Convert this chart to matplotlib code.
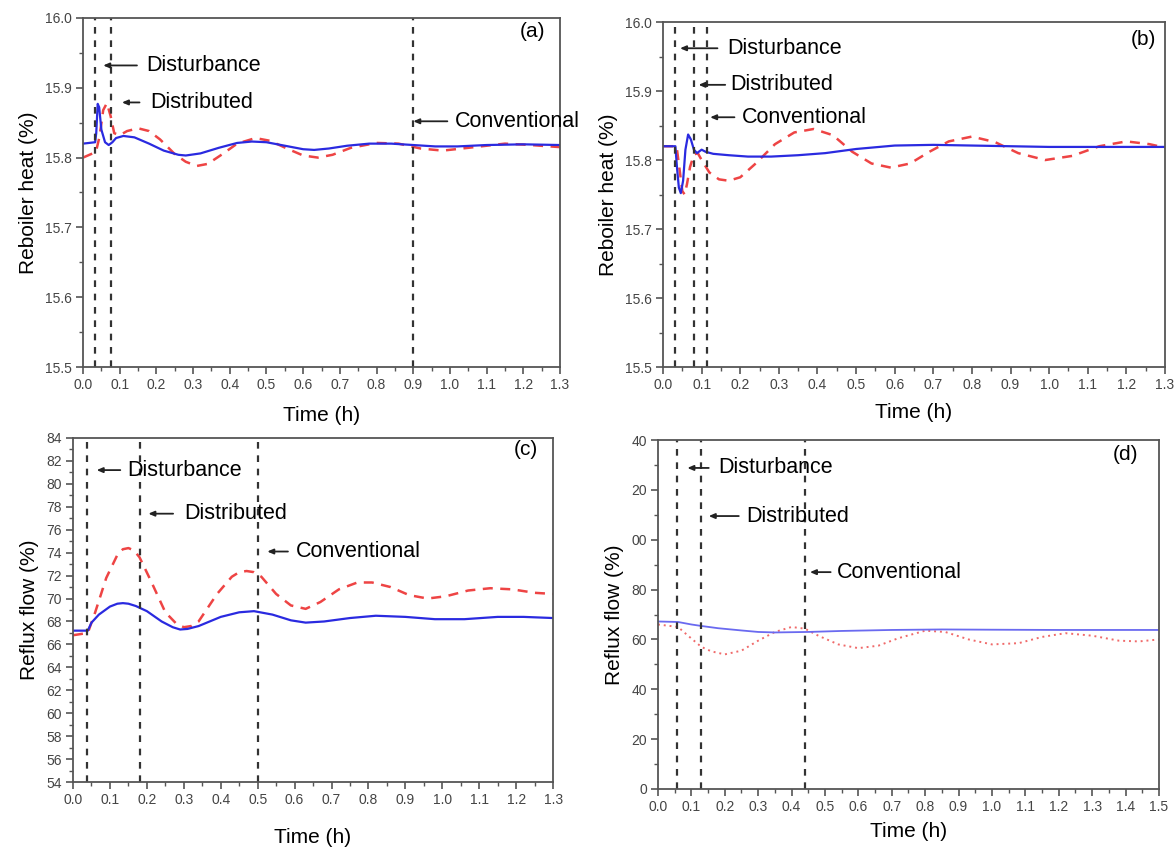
import numpy as np
import matplotlib.pyplot as plt
from matplotlib.ticker import MultipleLocator, FixedLocator, FixedFormatter

plt.rcParams['font.family'] = ['Liberation Sans', 'DejaVu Sans']

# ---- panel (a): reboiler heat, case 1 ----
ta_blue = [0, 0.033, 0.036, 0.040, 0.044, 0.05, 0.06, 0.07, 0.08, 0.09, 0.11, 0.14, 0.18, 0.22, 0.26,
           0.28, 0.32, 0.37, 0.42, 0.46, 0.5, 0.55, 0.6, 0.63, 0.67, 0.72, 0.78, 0.84, 0.9, 0.96, 1.02,
           1.1, 1.2, 1.3]
a_blue = [15.820, 15.822, 15.835, 15.877, 15.872, 15.84, 15.822, 15.818, 15.822, 15.828, 15.831, 15.829,
          15.82, 15.81, 15.804, 15.803, 15.806, 15.814, 15.821, 15.823, 15.822, 15.817, 15.812, 15.811,
          15.813, 15.817, 15.82, 15.82, 15.818, 15.816, 15.816, 15.818, 15.819, 15.818]
ta_red = [0, 0.035, 0.045, 0.055, 0.065, 0.075, 0.085, 0.1, 0.12, 0.15, 0.18, 0.21, 0.25, 0.28, 0.31,
          0.34, 0.38, 0.42, 0.47, 0.51, 0.56, 0.6, 0.64, 0.68, 0.73, 0.8, 0.86, 0.92, 0.98, 1.05, 1.15,
          1.22, 1.3]
a_red = [15.800, 15.808, 15.83, 15.868, 15.878, 15.86, 15.835, 15.832, 15.838, 15.842, 15.838, 15.826,
         15.805, 15.794, 15.788, 15.791, 15.805, 15.82, 15.828, 15.824, 15.812, 15.803, 15.800, 15.804,
         15.814, 15.821, 15.82, 15.813, 15.81, 15.814, 15.82, 15.818, 15.815]
a_vlines = [0.033, 0.075, 0.90]

# ---- panel (b): reboiler heat, case 2 ----
tb_blue = [0, 0.032, 0.036, 0.041, 0.046, 0.052, 0.058, 0.065, 0.072, 0.08, 0.088, 0.095, 0.1, 0.11,
           0.13, 0.17, 0.22, 0.28, 0.35, 0.42, 0.5, 0.6, 0.7, 0.8, 0.9, 1.0, 1.1, 1.2, 1.3]
b_blue = [15.82, 15.82, 15.79, 15.76, 15.752, 15.77, 15.815, 15.837, 15.83, 15.815, 15.81, 15.813,
          15.815, 15.812, 15.809, 15.807, 15.805, 15.805, 15.807, 15.81, 15.816, 15.821, 15.822, 15.821,
          15.82, 15.819, 15.819, 15.819, 15.819]
tb_red = [0, 0.035, 0.042, 0.05, 0.056, 0.062, 0.07, 0.08, 0.09, 0.1, 0.12, 0.145, 0.17, 0.2, 0.24,
          0.29, 0.34, 0.39, 0.44, 0.49, 0.54, 0.59, 0.64, 0.69, 0.74, 0.8, 0.86, 0.92, 0.99, 1.06, 1.13,
          1.2, 1.26, 1.3]
b_red = [15.82, 15.82, 15.79, 15.755, 15.75, 15.765, 15.79, 15.808, 15.81, 15.80, 15.782, 15.772, 15.77,
         15.775, 15.795, 15.823, 15.84, 15.845, 15.836, 15.812, 15.795, 15.789, 15.795, 15.812, 15.827,
         15.834, 15.826, 15.81, 15.8, 15.806, 15.82, 15.827, 15.823, 15.818]
b_vlines = [0.032, 0.081, 0.114]

# ---- panel (c): reflux flow, case 1 ----
tc_blue = [0, 0.04, 0.05, 0.07, 0.1, 0.12, 0.135, 0.15, 0.17, 0.2, 0.24, 0.27, 0.29, 0.31, 0.34, 0.4,
           0.45, 0.49, 0.54, 0.59, 0.63, 0.68, 0.75, 0.82, 0.9, 0.98, 1.06, 1.15, 1.22, 1.3]
c_blue = [67.2, 67.2, 67.9, 68.6, 69.3, 69.55, 69.6, 69.55, 69.35, 68.9, 68.0, 67.5, 67.3, 67.35, 67.6,
          68.4, 68.8, 68.9, 68.6, 68.1, 67.9, 68.0, 68.3, 68.5, 68.4, 68.2, 68.2, 68.4, 68.4, 68.3]
tc_red = [0, 0.04, 0.06, 0.09, 0.12, 0.135, 0.15, 0.165, 0.18, 0.21, 0.25, 0.28, 0.3, 0.32, 0.34, 0.39,
          0.43, 0.45, 0.47, 0.49, 0.51, 0.55, 0.59, 0.63, 0.67, 0.72, 0.77, 0.81, 0.86, 0.91, 0.96, 1.01,
          1.07, 1.13, 1.19, 1.25, 1.3]
c_red = [66.8, 67.0, 68.8, 71.8, 73.8, 74.3, 74.4, 74.2, 73.6, 71.6, 68.8, 67.8, 67.5, 67.6, 68.0, 70.4,
         71.9, 72.3, 72.4, 72.3, 71.9, 70.4, 69.4, 69.1, 69.7, 70.8, 71.4, 71.4, 71.0, 70.3, 70.0, 70.2,
         70.7, 70.9, 70.8, 70.5, 70.4]
c_vlines = [0.039, 0.181, 0.50]

# ---- panel (d): reflux flow, case 2 ----
td_blue = [0, 0.06, 0.1, 0.13, 0.18, 0.25, 0.3, 0.35, 0.45, 0.55, 0.7, 0.85, 1.0, 1.2, 1.5]
d_blue = [67.2, 67.0, 66.0, 65.4, 64.5, 63.6, 63.0, 62.8, 63.0, 63.4, 63.8, 64.0, 63.9, 63.8, 63.8]
td_red = [0, 0.06, 0.09, 0.13, 0.16, 0.2, 0.25, 0.3, 0.35, 0.4, 0.44, 0.48, 0.54, 0.6, 0.66, 0.72, 0.8,
          0.86, 0.93, 1.0, 1.08, 1.15, 1.22, 1.3, 1.38, 1.44, 1.5]
d_red = [66.0, 65.0, 61.5, 57.0, 55.2, 54.0, 55.5, 59.5, 63.0, 65.0, 64.3, 61.5, 58.0, 56.5, 57.5, 60.5,
         63.5, 63.0, 60.0, 58.0, 58.5, 61.0, 62.5, 61.5, 59.5, 59.2, 60.0]
d_vlines = [0.058, 0.129, 0.44]
d_yticks = [0, 20, 40, 60, 80, 100, 120, 140]
d_yticklabels = ['0', '20', '40', '60', '80', '00', '20', '40']

labels = ['Disturbance', 'Distributed', 'Conventional']

# arrow annotations: (head x, tail x, y, text x)
a_notes = [(0.055, 0.147, 15.932, 0.172), (0.106, 0.154, 15.879, 0.183), (0.90, 0.993, 15.852, 1.013)]
b_notes = [(0.044, 0.141, 15.962, 0.166), (0.092, 0.161, 15.909, 0.175), (0.122, 0.185, 15.862, 0.204)]
c_notes = [(0.064, 0.128, 81.2, 0.148), (0.204, 0.271, 77.4, 0.30), (0.526, 0.582, 74.1, 0.603)]
d_notes = [(0.088, 0.152, 128.8, 0.18), (0.152, 0.242, 109.5, 0.264), (0.455, 0.517, 87.0, 0.537)]

BLUE = '#2a2ae0'
RED = '#ee4444'
SPINE = '#555555'

fig = plt.figure(figsize=(11.76, 8.48), dpi=100)
ax_a = fig.add_axes([0.0706, 0.5672, 0.4056, 0.4116])
ax_b = fig.add_axes([0.5638, 0.5672, 0.4268, 0.4068])
ax_c = fig.add_axes([0.0621, 0.0778, 0.4082, 0.4057])
ax_d = fig.add_axes([0.5595, 0.0696, 0.4260, 0.4115])


def style(ax, xmax, ymin, ymax, ymajor, yminor, ylabel, letter, letter_xy, xpad, yfmt=None):
    ax.set_xlim(0, xmax)
    ax.set_ylim(ymin, ymax)
    ax.xaxis.set_major_locator(MultipleLocator(0.1))
    ax.xaxis.set_minor_locator(MultipleLocator(0.05))
    ax.yaxis.set_major_locator(MultipleLocator(ymajor))
    ax.yaxis.set_minor_locator(MultipleLocator(yminor))
    if yfmt:
        ax.yaxis.set_major_formatter(plt.FormatStrFormatter(yfmt))
    ax.xaxis.set_major_formatter(plt.FormatStrFormatter('%.1f'))
    ax.tick_params(which='major', direction='out', length=5, width=1.2, color=SPINE,
                   labelsize=10, labelcolor='#444444', pad=3)
    ax.tick_params(which='minor', direction='out', length=3, width=1.0, color=SPINE)
    for s in ax.spines.values():
        s.set_color(SPINE)
        s.set_linewidth(1.3)
    ax.set_xlabel('Time (h)', fontsize=15, labelpad=xpad)
    ax.set_ylabel(ylabel, fontsize=15, labelpad=5)
    ax.text(letter_xy[0], letter_xy[1], letter, fontsize=15, ha='center', va='center')


def marks(ax, vlines, notes):
    for x in vlines:
        ax.axvline(x, color='#333333', lw=1.6, ls=(0, (3, 3)))
    for (hx, tx, y, textx), lab in zip(notes, labels):
        ax.annotate('', xy=(hx, y), xytext=(tx, y),
                    arrowprops=dict(arrowstyle='-|>,head_length=0.35,head_width=0.15',
                                    color='#222222', lw=1.3, shrinkA=0, shrinkB=0))
        ax.text(textx, y, lab, fontsize=15.5, va='center', ha='left')


# (a)
ax_a.plot(ta_red, a_red, color=RED, lw=1.8, ls=(0, (4, 3)))
ax_a.plot(ta_blue, a_blue, color=BLUE, lw=1.6)
marks(ax_a, a_vlines, a_notes)
style(ax_a, 1.3, 15.5, 16.0, 0.1, 0.05, 'Reboiler heat (%)', '(a)', (1.225, 15.98), 10, '%.1f')

# (b)
ax_b.plot(tb_red, b_red, color=RED, lw=1.8, ls=(0, (4, 3)))
ax_b.plot(tb_blue, b_blue, color=BLUE, lw=1.6)
marks(ax_b, b_vlines, b_notes)
style(ax_b, 1.3, 15.5, 16.0, 0.1, 0.05, 'Reboiler heat (%)', '(b)', (1.245, 15.974), 8, '%.1f')

# (c)
ax_c.plot(tc_red, c_red, color=RED, lw=1.8, ls=(0, (4, 3)))
ax_c.plot(tc_blue, c_blue, color=BLUE, lw=1.6)
marks(ax_c, c_vlines, c_notes)
style(ax_c, 1.3, 54, 84, 2, 1, 'Reflux flow (%)', '(c)', (1.226, 83.0), 15, '%d')

# (d)
ax_d.plot(td_red, d_red, color='#f06a6a', lw=1.4, ls=(0, (1, 2)))
ax_d.plot(td_blue, d_blue, color='#6a6af0', lw=1.3)
marks(ax_d, d_vlines, d_notes)
style(ax_d, 1.5, 0, 140, 20, 10, 'Reflux flow (%)', '(d)', (1.40, 134), 6)
ax_d.yaxis.set_major_locator(FixedLocator(d_yticks))
ax_d.yaxis.set_major_formatter(FixedFormatter(d_yticklabels))

fig.savefig('out.png', dpi=100)
